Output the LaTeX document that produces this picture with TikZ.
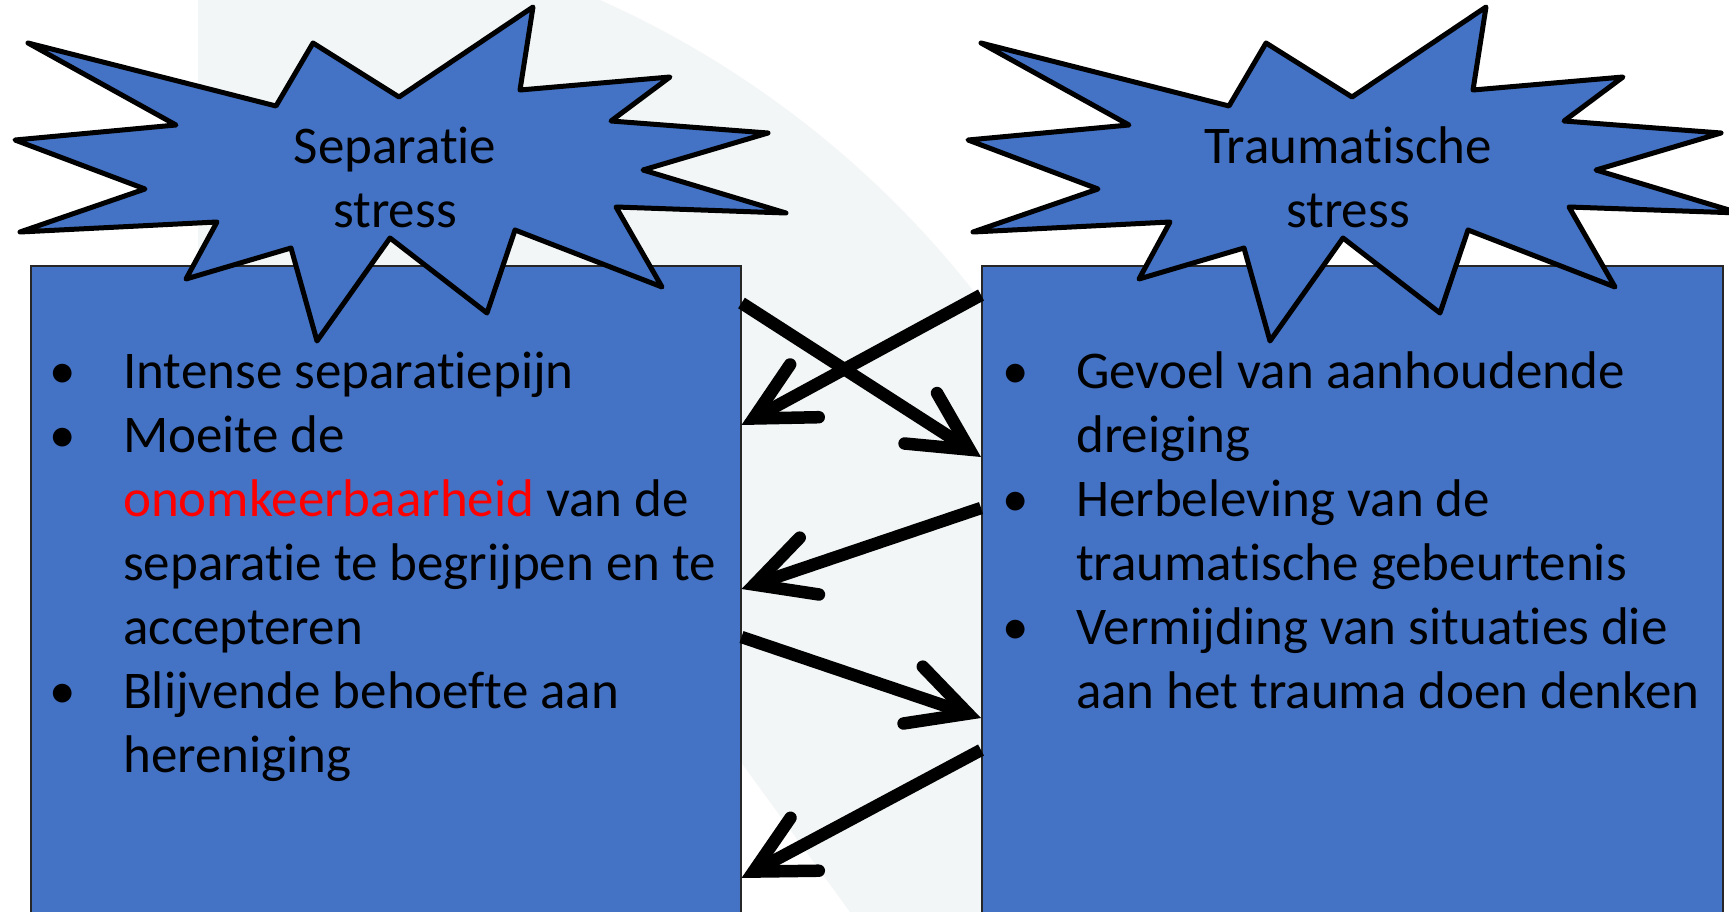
\documentclass[tikz,border=0pt]{standalone}
\usepackage{fontspec}
\setmainfont{Carlito}[Ligatures=NoCommon,Contextuals=NoAlternate]
\usetikzlibrary{arrows.meta,calc}
\definecolor{boxblue}{RGB}{68,114,196}
\definecolor{bglight}{RGB}{243,246,247}
\newcommand{\bul}{\leavevmode\llap{\textbullet\hspace{47pt}}}
\begin{document}
\begin{tikzpicture}[x=1pt,y=-1pt,
  box/.style={draw=black!85, line width=1.5pt, fill=boxblue, rectangle, inner sep=0pt, anchor=north west},
  starshape/.style={draw=black, line width=5pt, line join=round, fill=boxblue},
  headtext/.style={inner sep=0pt, anchor=base, font=\fontsize{53}{64}\selectfont},
  bodytext/.style={inner sep=0pt, anchor=base west, font=\fontsize{53}{64}\selectfont},
  link/.style={line width=12.5pt, line cap=butt, -{Straight Barb[length=58pt,width=60pt,line cap=round,line join=miter]}}
]
\path[use as bounding box] (0,0) rectangle (1729,912);
\clip (0,0) rectangle (1729,912);
\fill[white] (0,0) rectangle (1729,912);
\fill[bglight] (198,0) -- (600,0) arc[start angle=-65.9, end angle=-37, radius=990]
  -- (990,912) -- (850,912) -- (743,765) -- (600,600) -- (198,600) -- cycle;

% boxes
\node[box, minimum width=710pt, minimum height=700pt] (L) at (30,265) {};
\node[box, minimum width=741pt, minimum height=700pt] (R) at (981,265) {};

% box texts
\node[bodytext] (Ltext) at (123,388) {\parbox[t]{640pt}{\raggedright
\bul Intense separatiepijn\\
\bul Moeite de\\
\textcolor{red}{onomkeerbaarheid} van de\\
separatie te begrijpen en te\\
accepteren\\
\bul Blijvende behoefte aan\\
hereniging}};
\node[bodytext] (Rtext) at (1076,388) {\parbox[t]{650pt}{\raggedright
\bul Gevoel van aanhoudende\\
dreiging\\
\bul Herbeleving van de\\
traumatische gebeurtenis\\
\bul Vermijding van situaties die\\
aan het trauma doen denken}};

% stars
\foreach \dx in {0,953} {
\draw[starshape, shift={(\dx,0)}] (28,43) -- (176,125) -- (15,140) -- (145,189) -- (20,232)
  -- (217,222) -- (186,279) -- (291,248) -- (317,341) -- (390,238) -- (487,313)
  -- (515,230) -- (662,287) -- (616,207) -- (786,213) -- (643,170) -- (768,133)
  -- (611,121) -- (670,77) -- (520,90) -- (533,7) -- (399,97) -- (313,43) -- (276,106) -- cycle;
}
\node[headtext] (Lhead) at (395,164) {\parbox[t]{400pt}{\centering Separatie\\stress}};
\node[headtext] (Rhead) at (1348,164) {\parbox[t]{400pt}{\centering Traumatische\\stress}};

% arrows
\coordinate (a1s) at ($(L.north east)+(0,38)$);
\coordinate (a1e) at ($(R.north west)+(0,192)$);
\coordinate (a2s) at ($(R.north west)+(0,30)$);
\coordinate (a2e) at ($(L.north east)+(0,160)$);
\coordinate (a3s) at ($(R.north west)+(0,243)$);
\coordinate (a3e) at ($(L.north east)+(0,324)$);
\coordinate (a4s) at ($(L.north east)+(0,372)$);
\coordinate (a4e) at ($(R.north west)+(0,453)$);
\coordinate (a5s) at ($(R.north west)+(0,485)$);
\coordinate (a5e) at ($(L.north east)+(0,613)$);
\draw[link] (a1s) -- (a1e);
\draw[link] (a2s) -- (a2e);
\draw[link] (a3s) -- (a3e);
\draw[link] (a4s) -- (a4e);
\draw[link] (a5s) -- (a5e);
\end{tikzpicture}
\end{document}
